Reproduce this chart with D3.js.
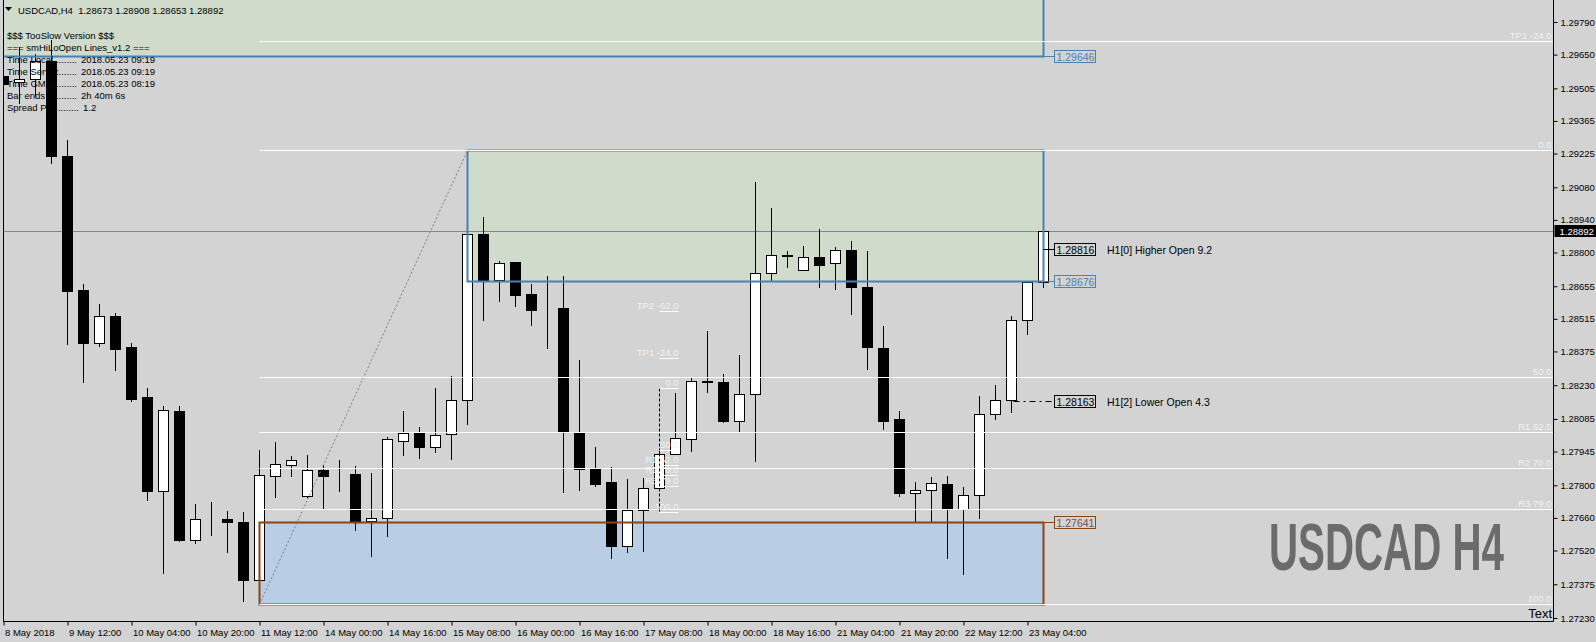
<!DOCTYPE html>
<html>
<head>
<meta charset="utf-8">
<script src="https://cdn.jsdelivr.net/npm/d3@7"></script>
<style>
  body { margin: 0; background: #d3d3d3; }
  svg text { font-family: "Liberation Sans", Arial, sans-serif; }
</style>
</head>
<body>
<svg id="chart"></svg>
<script>
// H4 bars, oldest first (bar 0 = 8 May 20:00, bar 65 = 23 May 08:00)
const barOpen = [1.29556,1.29532,1.29547,1.29622,1.29214,1.28639,1.28413,1.28527,1.28392,1.28179,
  1.27777,1.28119,1.27567,1.27657,1.27655,1.27643,1.27393,1.27841,1.27886,1.27756,
  1.27865,1.27846,1.27849,1.27648,1.27658,1.27992,1.28024,1.27966,1.28019,1.28165,
  1.28878,1.28682,1.28758,1.28622,1.28557,1.28560,1.28030,1.27869,1.27813,1.27541,
  1.27693,1.27790,1.27933,1.27998,1.28246,1.28243,1.28078,1.28191,1.28713,1.28788,
  1.28724,1.28779,1.28754,1.28810,1.28653,1.28389,1.28084,1.27766,1.27779,1.27806,
  1.27698,1.27757,1.28105,1.28165,1.28509,1.28673];
const barHigh = [1.29597,1.29683,1.29653,1.29713,1.29283,1.28665,1.28579,1.28540,1.28413,1.28216,
  1.28141,1.28141,1.27720,1.27728,1.27690,1.27685,1.27952,1.27985,1.27926,1.27930,
  1.27887,1.27909,1.27883,1.27854,1.28006,1.28119,1.28049,1.28219,1.28270,1.28880,
  1.28951,1.28763,1.28760,1.28665,1.28699,1.28699,1.28338,1.27965,1.27877,1.27827,
  1.27832,1.27952,1.28195,1.28267,1.28462,1.28277,1.28358,1.29103,1.28990,1.28806,
  1.28828,1.28901,1.28824,1.28849,1.28806,1.28484,1.28119,1.27814,1.27836,1.27840,
  1.27793,1.28184,1.28230,1.28527,1.28673,1.28908];
const barLow = [1.29444,1.29442,1.29472,1.29184,1.28407,1.28244,1.28400,1.28295,1.28162,1.27737,
  1.27424,1.27561,1.27552,1.27587,1.27514,1.27303,1.27290,1.27751,1.27841,1.27751,
  1.27698,1.27777,1.27608,1.27497,1.27582,1.27930,1.27919,1.27944,1.27913,1.28063,
  1.28510,1.28592,1.28570,1.28489,1.28391,1.27773,1.27780,1.27798,1.27489,1.27515,
  1.27519,1.27780,1.27933,1.27949,1.28202,1.28073,1.28030,1.27905,1.28679,1.28739,
  1.28724,1.28653,1.28645,1.28535,1.28301,1.28043,1.27756,1.27645,1.27645,1.27489,
  1.27420,1.27661,1.28084,1.28116,1.28449,1.28653];
const barClose = [1.29524,1.29545,1.29622,1.29214,1.28635,1.28413,1.28527,1.28387,1.28171,1.27777,
  1.28124,1.27567,1.27657,1.27655,1.27643,1.27393,1.27844,1.27890,1.27908,1.27865,
  1.27841,1.27845,1.27648,1.27658,1.27998,1.28024,1.27966,1.28015,1.28165,1.28878,
  1.28682,1.28754,1.28619,1.28553,1.28556,1.28035,1.27869,1.27806,1.27541,1.27693,
  1.27790,1.27933,1.28002,1.28247,1.28245,1.28078,1.28191,1.28713,1.28788,1.28786,
  1.28779,1.28748,1.28810,1.28653,1.28395,1.28078,1.27766,1.27779,1.27809,1.27698,
  1.27757,1.28105,1.28165,1.28509,1.28672,1.28892];

const timeTickBars = [0,4,8,12,16,20,24,28,32,36,40,44,48,52,56,60,64];
const timeTickLabels = ['8 May 2018','9 May 12:00','10 May 04:00','10 May 20:00','11 May 12:00',
  '14 May 00:00','14 May 16:00','15 May 08:00','16 May 00:00','16 May 16:00','17 May 08:00',
  '18 May 00:00','18 May 16:00','21 May 04:00','21 May 20:00','22 May 12:00','23 May 04:00'];
const priceTicks = [1.29790,1.29650,1.29505,1.29365,1.29225,1.29080,1.28940,1.28800,1.28655,
  1.28515,1.28375,1.28230,1.28085,1.27945,1.27800,1.27660,1.27520,1.27375,1.27230];

// rectangles: [first bar, last bar], [low price, high price]
const zoneBars = [[-3, 65], [29, 65], [16, 65]];
const zonePrices = [[1.29646, 1.30000], [1.28676, 1.29240], [1.27290, 1.27641]];
const zoneFills = ['#d0dbcb', '#d0dbcb', '#b9cde5'];
const zoneStrokes = ['#4682b4', '#4682b4', '#8b4513'];

// big fibo (bar 16 low -> bar 29 high)
const bigFiboBars = [16, 29];
const bigFiboPrices = [1.27290, 1.29240];
const bigFiboLevels = [-24, 0, 50, 62, 70, 79, 100];
const bigFiboNames = ['TP1 -24.0', '0.0', '50.0', 'R1 62.0', 'R2 70.0', 'R3 79.0', '100.0'];

// small fibo on bar 41
const smallFiboBar = 41;
const smallFiboPrices = [1.27685, 1.28219];
const smallFiboLevels = [-62, -24, 0, 50, 62, 70, 79, 100];
const smallFiboNames = ['TP2 -62.0', 'TP1 -24.0', '0.0', '50.0', 'R1 62.0', 'R2 70.0', 'R3 79.0', '100.0'];

// price tags on the right of the last bar
const tagPrices = [1.29646, 1.28816, 1.28676, 1.28163, 1.27641];
const tagColors = ['#4682b4', '#000000', '#4682b4', '#000000', '#8b4513'];
const tagTextColors = ['#4682b4', '#000000', '#4682b4', '#000000', '#7a4a55'];
const h1Prices = [1.28816, 1.28163];
const h1Labels = ['H1[0] Higher Open 9.2', 'H1[2] Lower Open 4.3'];

const infoTitles = ['$$$ TooSlow Version $$$', '=== smHiLoOpen Lines_v1.2 ==='];
const infoLabels = ['Time Local', 'Time Server', 'Time GMT', 'Bar ends', 'Spread Pip'];
const infoValues = ['2018.05.23 09:19', '2018.05.23 09:19', '2018.05.23 08:19', '2h 40m 6s', '1.2'];

const W = 1596, H = 642;
const plotL = 3.5, plotR = 1553.5, plotB = 621.5;

const svg = d3.select('#chart').attr('width', W).attr('height', H);

const x = d3.scaleLinear().domain([0, 65]).range([3.5, 1043.5]);
const y = d3.scaleLinear().domain([1.27230, 1.29790]).range([618, 22]);
const py = p => Math.round(y(p)) + 0.5;

svg.append('rect').attr('width', W).attr('height', H).attr('fill', '#d3d3d3');

svg.append('clipPath').attr('id', 'clip')
  .append('rect').attr('x', 4).attr('y', 0).attr('width', 1549).attr('height', 621);

const g = svg.append('g').attr('clip-path', 'url(#clip)');

// zone fills (background)
const zones = zoneBars.map((b, i) => ({ b, p: zonePrices[i], fill: zoneFills[i], stroke: zoneStrokes[i] }));
g.selectAll('rect.zonefill').data(zones).join('rect')
  .attr('class', 'zonefill')
  .attr('x', d => x(d.b[0])).attr('width', d => x(d.b[1]) - x(d.b[0]))
  .attr('y', d => py(d.p[1])).attr('height', d => py(d.p[0]) - py(d.p[1]))
  .attr('fill', d => d.fill);

// current price line
const lastClose = barClose[barClose.length - 1];
g.append('line')
  .attr('x1', plotL).attr('x2', plotR)
  .attr('y1', py(lastClose)).attr('y2', py(lastClose))
  .attr('stroke', '#778899');

// candles
const bars = barOpen.map((o, i) => ({ i, o, h: barHigh[i], l: barLow[i], c: barClose[i] }));
g.selectAll('line.wick').data(bars).join('line')
  .attr('class', 'wick')
  .attr('x1', d => x(d.i)).attr('x2', d => x(d.i))
  .attr('y1', d => py(d.h) - 0.5).attr('y2', d => py(d.l) + 0.5)
  .attr('stroke', '#000');
g.selectAll('rect.body').data(bars).join('rect')
  .attr('class', 'body')
  .attr('x', d => x(d.i) - 5).attr('width', 10)
  .attr('y', d => Math.min(py(d.o), py(d.c)))
  .attr('height', d => Math.abs(py(d.o) - py(d.c)))
  .attr('fill', d => d.c > d.o ? '#ffffff' : '#000000')
  .attr('stroke', '#000');

// zone borders
g.selectAll('rect.zoneline').data(zones).join('rect')
  .attr('class', 'zoneline')
  .attr('x', d => x(d.b[0])).attr('width', d => x(d.b[1]) - x(d.b[0]))
  .attr('y', d => py(d.p[1])).attr('height', d => py(d.p[0]) - py(d.p[1]))
  .attr('fill', 'none').attr('stroke', d => d.stroke).attr('stroke-width', 2);

// big fibo
const bigLevel = lv => bigFiboPrices[1] - lv / 100 * (bigFiboPrices[1] - bigFiboPrices[0]);
g.append('line')
  .attr('x1', x(bigFiboBars[0])).attr('y1', py(bigFiboPrices[0]))
  .attr('x2', x(bigFiboBars[1])).attr('y2', py(bigFiboPrices[1]))
  .attr('stroke', '#708090').attr('stroke-dasharray', '2,2');
g.selectAll('line.bigfibo').data(bigFiboLevels).join('line')
  .attr('class', 'bigfibo')
  .attr('x1', x(bigFiboBars[0])).attr('x2', plotR)
  .attr('y1', d => py(bigLevel(d))).attr('y2', d => py(bigLevel(d)))
  .attr('stroke', '#ffffff');
g.selectAll('text.bigfibo').data(bigFiboLevels).join('text')
  .attr('class', 'bigfibo')
  .attr('x', plotR - 2).attr('y', d => py(bigLevel(d)) - 2.5)
  .attr('text-anchor', 'end').attr('font-size', '9.5px').attr('fill', '#f2f2f2')
  .text((d, i) => bigFiboNames[i]);

// small fibo
const smallLevel = lv => smallFiboPrices[1] - lv / 100 * (smallFiboPrices[1] - smallFiboPrices[0]);
const sx = x(smallFiboBar);
g.append('line')
  .attr('x1', sx).attr('x2', sx)
  .attr('y1', py(smallFiboPrices[1])).attr('y2', py(smallFiboPrices[0]))
  .attr('stroke', '#000').attr('stroke-dasharray', '3,2');
g.selectAll('line.smallfibo').data(smallFiboLevels).join('line')
  .attr('class', 'smallfibo')
  .attr('x1', sx).attr('x2', sx + 19)
  .attr('y1', d => py(smallLevel(d))).attr('y2', d => py(smallLevel(d)))
  .attr('stroke', '#ffffff');
g.selectAll('text.smallfibo').data(smallFiboLevels).join('text')
  .attr('class', 'smallfibo')
  .attr('x', sx + 19).attr('y', d => py(smallLevel(d)) - 2.5)
  .attr('text-anchor', 'end').attr('font-size', '9.5px').attr('fill', '#f2f2f2')
  .text((d, i) => smallFiboNames[i]);

// price tags
const tagX = 1054.5;
const tags = tagPrices.map((p, i) => ({ p, c: tagColors[i], t: tagTextColors[i], i }));
g.selectAll('line.tagconn').data(tags).join('line')
  .attr('class', 'tagconn')
  .attr('x1', d => d.i === 3 ? x(63) + 2 : x(65)).attr('x2', tagX)
  .attr('y1', d => py(d.p)).attr('y2', d => py(d.p))
  .attr('stroke', d => d.c)
  .attr('stroke-dasharray', d => d.i === 3 ? '6,4,2,4' : null);
g.selectAll('rect.tag').data(tags).join('rect')
  .attr('class', 'tag')
  .attr('x', tagX).attr('y', d => py(d.p) - 6).attr('width', 41).attr('height', 12)
  .attr('fill', '#d3d3d3').attr('stroke', d => d.c);
g.selectAll('text.tag').data(tags).join('text')
  .attr('class', 'tag')
  .attr('x', tagX + 2).attr('y', d => py(d.p) + 4)
  .attr('font-size', '10.5px').attr('fill', d => d.t)
  .text(d => d.p.toFixed(5));
g.selectAll('text.h1').data(h1Prices).join('text')
  .attr('class', 'h1')
  .attr('x', 1107).attr('y', d => py(d) + 4)
  .attr('font-size', '10.5px').attr('fill', '#000')
  .text((d, i) => h1Labels[i]);

// big watermark, squeezed horizontally to its width in the chart
const mark = g.append('text')
  .attr('font-family', '"Liberation Sans Narrow", "Liberation Sans", Arial, sans-serif')
  .attr('font-weight', 'bold').attr('font-size', '67px').attr('fill', '#6b6b6b')
  .text('USDCAD H4');
const markLen = mark.node().getComputedTextLength();
mark.attr('transform', `translate(1269,570) scale(${235 / markLen},1)`);

g.append('text')
  .attr('x', 1552).attr('y', 618).attr('text-anchor', 'end')
  .attr('font-size', '13px').attr('fill', '#000')
  .text('Text');

// header and info text
g.append('path').attr('d', 'M5,7 L12,7 L8.5,11 Z').attr('fill', '#000');
const lastIdx = barOpen.length - 1;
const f5 = d3.format('.5f');
g.append('text')
  .attr('x', 18).attr('y', 13.5).attr('font-size', '9.5px').attr('fill', '#000')
  .attr('xml:space', 'preserve')
  .text(`USDCAD,H4  ${f5(barOpen[lastIdx])} ${f5(barHigh[lastIdx])} ${f5(barLow[lastIdx])} ${f5(barClose[lastIdx])}`);
g.selectAll('text.title').data(infoTitles).join('text')
  .attr('class', 'title')
  .attr('x', 7).attr('y', (d, i) => 38.5 + i * 12)
  .attr('font-size', '9.5px').attr('fill', '#000')
  .text(d => d);
g.selectAll('text.infol').data(infoLabels).join('text')
  .attr('class', 'infol')
  .attr('x', 7).attr('y', (d, i) => 63 + i * 12)
  .attr('font-size', '9.5px').attr('fill', '#000')
  .text(d => d);
g.selectAll('text.infod').data(infoLabels).join('text')
  .attr('class', 'infod')
  .attr('x', (d, i) => i === 4 ? 79 : 77).attr('y', (d, i) => 63 + i * 12)
  .attr('text-anchor', 'end')
  .attr('font-size', '9.5px').attr('fill', '#000')
  .text('........');
g.selectAll('text.infov').data(infoValues).join('text')
  .attr('class', 'infov')
  .attr('x', (d, i) => i === 4 ? 83 : 81).attr('y', (d, i) => 63 + i * 12)
  .attr('font-size', '9.5px').attr('fill', '#000')
  .text(d => d);

// axes
const yAxis = d3.axisRight(y).tickValues(priceTicks).tickFormat(f5).tickSize(4).tickPadding(3);
const yg = svg.append('g').attr('transform', `translate(${plotR},0)`).call(yAxis);
yg.select('.domain').remove();
yg.selectAll('text').attr('font-size', '9.5px').attr('font-family', '"Liberation Sans", Arial, sans-serif').attr('fill', '#000');
yg.selectAll('line').attr('stroke', '#000');

const xAxis = d3.axisBottom(x).tickValues(timeTickBars)
  .tickFormat((d, i) => timeTickLabels[i]).tickSize(4).tickPadding(4);
const xg = svg.append('g').attr('transform', `translate(0,${plotB})`).call(xAxis);
xg.select('.domain').remove();
xg.selectAll('text').attr('text-anchor', 'start').attr('dx', '1')
  .attr('font-size', '9.5px').attr('font-family', '"Liberation Sans", Arial, sans-serif').attr('fill', '#000');
xg.selectAll('line').attr('stroke', '#000');

// current price marker on the axis
svg.append('rect').attr('x', plotR + 1).attr('y', py(lastClose) - 6.5)
  .attr('width', 42).attr('height', 12).attr('fill', '#000');
svg.append('text').attr('x', plotR + 6).attr('y', py(lastClose) + 3.5)
  .attr('font-size', '9.5px').attr('fill', '#fff').text(f5(lastClose));

// frame
svg.append('path')
  .attr('d', `M${plotL},0 V${plotB} H${plotR} V0`)
  .attr('fill', 'none').attr('stroke', '#000');
</script>
</body>
</html>
